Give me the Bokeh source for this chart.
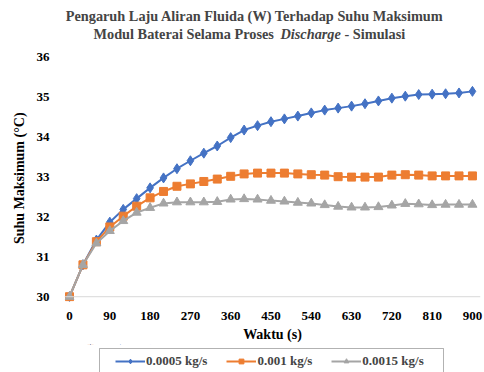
from bokeh.plotting import figure
from bokeh.models import Label, Legend, LegendItem, Span, FixedTicker, BoxAnnotation
from bokeh.layouts import column
from bokeh.embed import file_html
from bokeh.resources import INLINE

waktu = [0, 30, 60, 90, 120, 150, 180, 210, 240, 270, 300, 330, 360, 390, 420, 450,
         480, 510, 540, 570, 600, 630, 660, 690, 720, 750, 780, 810, 840, 870, 900]
suhu_0005 = [30.00, 30.80, 31.42, 31.87, 32.19, 32.46, 32.73, 32.98, 33.21, 33.41, 33.60,
             33.78, 33.99, 34.18, 34.29, 34.39, 34.46, 34.53, 34.61, 34.68, 34.73, 34.78,
             34.84, 34.91, 34.98, 35.03, 35.07, 35.08, 35.09, 35.11, 35.15]
suhu_001 = [30.00, 30.80, 31.38, 31.75, 32.02, 32.27, 32.48, 32.64, 32.77, 32.83, 32.89,
            32.95, 33.02, 33.08, 33.10, 33.10, 33.10, 33.08, 33.06, 33.05, 33.01, 33.00,
            33.00, 33.00, 33.05, 33.06, 33.05, 33.03, 33.03, 33.03, 33.03]
suhu_0015 = [30.00, 30.80, 31.34, 31.65, 31.90, 32.11, 32.23, 32.34, 32.37, 32.37, 32.37,
             32.38, 32.44, 32.45, 32.44, 32.41, 32.39, 32.36, 32.34, 32.30, 32.26, 32.24,
             32.24, 32.25, 32.29, 32.33, 32.32, 32.30, 32.31, 32.31, 32.31]
labels = ["0.0005 kg/s", "0.001 kg/s", "0.0015 kg/s"]
colors = ["#4472C4", "#ED7D31", "#A5A5A5"]
x_ticks = [0, 90, 180, 270, 360, 450, 540, 630, 720, 810, 900]
y_ticks = [30, 31, 32, 33, 34, 35, 36]

SERIF = "Liberation Serif"
W = 484
BL, BR = 64, 4   # frame borders shared by all stacked figures

series = [suhu_0005, suhu_001, suhu_0015]
markers = ["diamond", "square", "triangle"]
sizes = [10, 8, 9]

# ---------- title strip ----------
TH = 47
pt = figure(width=W, height=TH, output_backend="svg", toolbar_location=None,
            x_range=(BL, W - BR), y_range=(0, TH),
            min_border_left=BL, min_border_right=BR, min_border_top=0, min_border_bottom=0,
            x_axis_type=None, y_axis_type=None)
pt.grid.visible = False
pt.outline_line_color = None
tfs = "14.3px"
pt.add_layout(Label(x=256, y=TH - 15, text="Pengaruh Laju Aliran  Fluida (W) Terhadap Suhu Maksimum",
                    text_font=SERIF, text_font_style="bold", text_font_size=tfs,
                    text_align="center", text_baseline="middle"))
pt.add_layout(Label(x=277, y=TH - 33, text="Modul  Baterai Selama Proses",
                    text_font=SERIF, text_font_style="bold", text_font_size=tfs,
                    text_align="right", text_baseline="middle"))
pt.add_layout(Label(x=280, y=TH - 33, text="Discharge",
                    text_font=SERIF, text_font_style="bold italic", text_font_size=tfs,
                    text_align="left", text_baseline="middle"))
pt.add_layout(Label(x=344, y=TH - 33, text="- Simulasi",
                    text_font=SERIF, text_font_style="bold", text_font_size=tfs,
                    text_align="left", text_baseline="middle"))

# ---------- main plot ----------
p = figure(width=W, height=297, output_backend="svg", toolbar_location=None,
           x_range=(-11.2, 918), y_range=(29.88, 36.15),
           min_border_left=BL, min_border_right=BR, min_border_top=4, min_border_bottom=41)
p.outline_line_color = None
p.xgrid.grid_line_color = None
p.ygrid.grid_line_color = None

p.add_layout(Span(location=30, dimension="width", line_color="#D9D9D9", line_width=1))

for ys, col, mk, sz in zip(series, colors, markers, sizes):
    p.line(waktu, ys, line_color=col, line_width=2)
    p.scatter(waktu, ys, marker=mk, size=sz, fill_color=col, line_color=col)

for ax in (p.xaxis, p.yaxis):
    ax.axis_line_color = None
    ax.major_tick_line_color = None
    ax.minor_tick_line_color = None
    ax.major_label_text_font = SERIF
    ax.major_label_text_font_style = "bold"
    ax.major_label_text_font_size = "13px"
    ax.major_label_text_color = "#000000"
    ax.axis_label_text_font = SERIF
    ax.axis_label_text_font_style = "bold"
    ax.axis_label_text_font_size = "14px"
    ax.axis_label_text_color = "#000000"

p.xaxis.ticker = FixedTicker(ticks=x_ticks)
p.yaxis.ticker = FixedTicker(ticks=y_ticks)
p.xaxis.major_label_standoff = 4
p.yaxis.major_label_standoff = 9
p.xaxis.axis_label = "Waktu (s)"
p.yaxis.axis_label = "Suhu  Maksimum (\u00b0C)"
p.xaxis.axis_label_standoff = 4
p.yaxis.axis_label_standoff = 7

# ---------- legend strip ----------
LH = 28
pl = figure(width=W, height=LH, output_backend="svg", toolbar_location=None,
            x_range=(BL, W - BR), y_range=(0, LH),
            min_border_left=BL, min_border_right=BR, min_border_top=0, min_border_bottom=0,
            x_axis_type=None, y_axis_type=None)
pl.grid.visible = False
pl.outline_line_color = None
items = []
for ys, lab, col, mk, sz in zip(series, labels, colors, markers, sizes):
    # same series, lying outside this strip's visible range: only the legend glyphs show
    r1 = pl.line(waktu, ys, line_color=col, line_width=2)
    r2 = pl.scatter(waktu, ys, marker=mk, size=sz - 2, fill_color=col, line_color=col)
    items.append(LegendItem(label=lab, renderers=[r1, r2]))
legend = Legend(items=items, orientation="horizontal", location=(115 - BL, 3),
                border_line_color=None, background_fill_alpha=0,
                label_text_font=SERIF, label_text_font_style="bold",
                label_text_font_size="13px", glyph_width=30, glyph_height=12,
                label_standoff=1, spacing=19, padding=4, margin=0)
pl.add_layout(legend)
pl.add_layout(BoxAnnotation(left=99, right=443, bottom=-6, top=LH - 4,
                            fill_alpha=0, line_color="#000000", line_width=1))

layout = column(pt, p, pl, spacing=0)
open("out.html", "w").write(file_html(layout, INLINE))
